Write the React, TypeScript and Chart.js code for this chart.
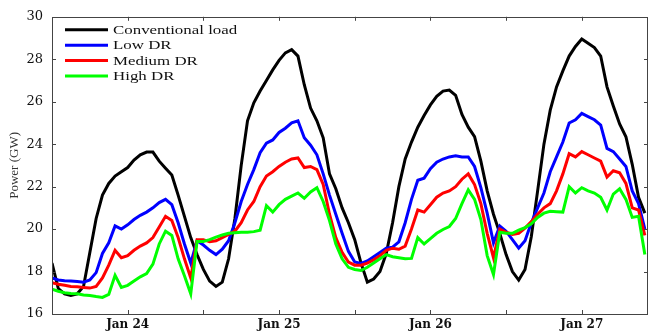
import React, { useEffect, useRef } from 'react';
import { Chart, registerables } from 'chart.js';

Chart.register(...registerables);

// hourly samples starting Jan 23 12:00
const conventional = [
  18.4, 17.2, 16.95, 16.87, 16.95, 17.3, 18.9, 20.5, 21.6, 22.15,
  22.5, 22.7, 22.9, 23.25, 23.5, 23.63, 23.63, 23.2, 22.87, 22.55,
  21.6, 20.6, 19.6, 18.8, 18.1, 17.55, 17.3, 17.5, 18.6, 20.5,
  23.0, 25.1, 25.95, 26.5, 27.0, 27.5, 27.95, 28.3, 28.45, 28.15,
  26.8, 25.7, 25.1, 24.3, 22.6, 21.9, 21.0, 20.3, 19.5, 18.4,
  17.5, 17.65, 18.0, 18.85, 20.3, 22.0, 23.3, 24.1, 24.8, 25.35,
  25.85, 26.25, 26.5, 26.55, 26.3, 25.4, 24.8, 24.35, 23.2, 21.8,
  20.7, 19.8, 18.8, 18.0, 17.6, 18.1, 19.65, 21.8, 24.0, 25.6,
  26.7, 27.45, 28.15, 28.6, 28.95, 28.75, 28.55, 28.15, 26.7, 25.8,
  24.95, 24.35, 23.05, 21.5, 20.75,
];
const lowDR = [
  17.7, 17.6, 17.57, 17.55, 17.53, 17.5, 17.6, 17.95, 18.85, 19.35,
  20.15, 20.0, 20.2, 20.45, 20.65, 20.8, 21.0, 21.25, 21.4, 21.15,
  20.3, 19.3, 18.4, 19.45, 19.25, 19.0, 18.8, 19.05, 19.45, 20.3,
  21.3, 22.1, 22.8, 23.6, 24.05, 24.2, 24.55, 24.75, 25.0, 25.1,
  24.3, 23.95, 23.5, 22.6, 21.6, 20.7, 19.8, 18.95, 18.45, 18.38,
  18.5, 18.7, 18.9, 19.1, 19.15, 19.4, 20.3, 21.4, 22.3, 22.4,
  22.85, 23.15, 23.3, 23.4, 23.45, 23.4, 23.4, 22.95, 21.95, 20.75,
  19.35, 20.15, 19.9, 19.5, 19.1, 19.45, 20.3, 21.0, 21.7, 22.7,
  23.4, 24.1, 25.0, 25.15, 25.45, 25.3, 25.15, 24.9, 23.8, 23.65,
  23.3, 22.95, 21.8, 21.2, 20.0,
];
const mediumDR = [
  17.48, 17.4, 17.35, 17.3, 17.28, 17.25, 17.22, 17.3, 17.7, 18.3,
  19.0, 18.65, 18.75, 19.0, 19.2, 19.35, 19.6, 20.1, 20.6, 20.4,
  19.6, 18.6, 17.7, 19.5, 19.5, 19.4, 19.45, 19.6, 19.75, 19.9,
  20.3, 20.9, 21.3, 22.0, 22.5, 22.7, 22.95, 23.15, 23.3, 23.35,
  22.9, 22.95, 22.8, 22.1, 20.7, 19.6, 18.9, 18.45, 18.3, 18.3,
  18.4, 18.55, 18.75, 19.0, 19.1, 19.05, 19.2, 20.0, 20.9, 20.8,
  21.15, 21.5, 21.7, 21.8, 22.0, 22.35, 22.6, 22.1, 21.2, 19.8,
  18.65, 20.0, 19.85, 19.75, 19.8, 20.05, 20.35, 20.7, 21.0, 21.2,
  21.8, 22.6, 23.55, 23.4, 23.65, 23.5, 23.35, 23.2, 22.45, 22.75,
  22.65, 22.15, 21.0, 20.9, 19.7,
];
const highDR = [
  17.17, 17.07, 17.0, 16.97, 16.95, 16.9, 16.87, 16.82, 16.78, 16.92,
  17.82, 17.25, 17.35, 17.55, 17.75, 17.9, 18.35, 19.3, 19.9, 19.7,
  18.6, 17.8, 16.95, 19.42, 19.42, 19.5, 19.62, 19.72, 19.8, 19.83,
  19.85, 19.85, 19.88, 19.95, 21.1, 20.8, 21.15, 21.4, 21.55, 21.7,
  21.45, 21.75, 21.95, 21.3, 20.4, 19.3, 18.6, 18.2, 18.1, 18.05,
  18.2, 18.4, 18.6, 18.8, 18.7, 18.65, 18.6, 18.62, 19.6, 19.3,
  19.55, 19.8, 19.98, 20.12, 20.5, 21.2, 21.85, 21.4, 20.45, 18.75,
  17.86, 19.85, 19.8, 19.8, 19.95, 20.07, 20.25, 20.55, 20.75, 20.84,
  20.82, 20.8, 22.0, 21.7, 21.95, 21.8, 21.7, 21.5, 20.9, 21.65,
  21.9, 21.4, 20.55, 20.6, 18.8,
];

const seriesLabels = ['Conventional load', 'Low DR', 'Medium DR', 'High DR'];
const seriesColors = ['#000000', '#0000ff', '#ff0000', '#00ff00'];

const xTickValues = [12, 24, 36, 48, 60, 72, 84];
const xTickLabels = ['Jan 24', '', 'Jan 25', '', 'Jan 26', '', 'Jan 27'];
const yTickValues = [16, 18, 20, 22, 24, 26, 28, 30];

const framePlugin = {
  id: 'frameTicks',
  afterDraw(chart: any) {
    const { ctx, chartArea } = chart;
    const { left, right, top, bottom } = chartArea;
    const xs = chart.scales.x;
    const ys = chart.scales.y;
    ctx.save();
    ctx.strokeStyle = '#444';
    ctx.lineWidth = 1;
    ctx.strokeRect(Math.round(left) + 0.5, Math.round(top) + 0.5, Math.round(right - left) - 1, Math.round(bottom - top));
    ctx.beginPath();
    xTickValues.forEach((v) => {
      const px = Math.round(xs.getPixelForValue(v)) + 0.5;
      ctx.moveTo(px, bottom);
      ctx.lineTo(px, bottom - 4);
      ctx.moveTo(px, top);
      ctx.lineTo(px, top + 4);
    });
    yTickValues.forEach((v) => {
      const py = Math.round(ys.getPixelForValue(v)) + 0.5;
      ctx.moveTo(left, py);
      ctx.lineTo(left + 4, py);
      ctx.moveTo(right, py);
      ctx.lineTo(right - 4, py);
    });
    ctx.stroke();
    ctx.restore();
  },
};

const legendPlugin = {
  id: 'insideLegend',
  afterDraw(chart: any) {
    const { ctx, chartArea } = chart;
    const x0 = chartArea.left + 13;
    const y0 = chartArea.top + 13;
    chart.data.datasets.forEach((ds: any, i: number) => {
      const y = y0 + i * 15.4;
      ctx.save();
      ctx.strokeStyle = ds.borderColor;
      ctx.lineWidth = 3;
      ctx.beginPath();
      ctx.moveTo(x0, y);
      ctx.lineTo(x0 + 43, y);
      ctx.stroke();
      ctx.translate(x0 + 48, y + 1);
      ctx.scale(1.35, 1);
      ctx.font = '12.5px "Liberation Serif"';
      ctx.textBaseline = 'middle';
      ctx.fillStyle = '#111';
      ctx.fillText(ds.label, 0, 0);
      ctx.restore();
    });
  },
};

export default function App() {
  const ref = useRef<HTMLCanvasElement>(null);
  useEffect(() => {
    document.body.style.margin = '0';
    const allSeries = [conventional, lowDR, mediumDR, highDR];
    const chart = new Chart(ref.current as HTMLCanvasElement, {
      type: 'line',
      data: {
        datasets: allSeries.map((vals, i) => ({
          label: seriesLabels[i],
          data: vals.map((v, h) => ({ x: h, y: v })),
          borderColor: seriesColors[i],
          backgroundColor: seriesColors[i],
          borderWidth: 3,
          pointRadius: 0,
          tension: 0,
          fill: false,
          order: 4 - i,
        })),
      },
      options: {
        responsive: false,
        animation: false,
        layout: { padding: { top: 9, right: 1, left: 0, bottom: 0 } },
        plugins: { legend: { display: false }, tooltip: { enabled: false } },
        scales: {
          x: {
            type: 'linear',
            min: 0,
            max: 94.5,
            grid: { display: false, drawTicks: false },
            border: { display: false },
            afterBuildTicks: (s: any) => {
              s.ticks = xTickValues.map((v) => ({ value: v }));
            },
            afterFit: (s: any) => {
              s.height = 19;
            },
            ticks: {
              padding: 4,
              autoSkip: false,
              maxRotation: 0,
              color: '#111',
              font: { family: 'DejaVu Serif', size: 12, weight: 'bold' },
              callback: (v: any) => {
                const idx = xTickValues.indexOf(Number(v));
                return idx >= 0 ? xTickLabels[idx] : '';
              },
            },
          },
          y: {
            type: 'linear',
            min: 16,
            max: 30,
            grid: { display: false, drawTicks: false },
            border: { display: false },
            afterBuildTicks: (s: any) => {
              s.ticks = yTickValues.map((v) => ({ value: v }));
            },
            afterFit: (s: any) => {
              s.width = 52;
            },
            ticks: {
              padding: 9,
              color: '#111',
              font: { family: 'DejaVu Serif', size: 13 },
            },
            title: {
              display: true,
              text: 'Power (GW)',
              color: '#333',
              padding: { top: 7, bottom: 0 },
              font: { family: 'Liberation Serif', size: 13 },
            },
          },
        },
      },
      plugins: [framePlugin, legendPlugin],
    } as any);
    return () => chart.destroy();
  }, []);
  return <canvas ref={ref} width={649} height={333} style={{ display: 'block' }} />;
}
